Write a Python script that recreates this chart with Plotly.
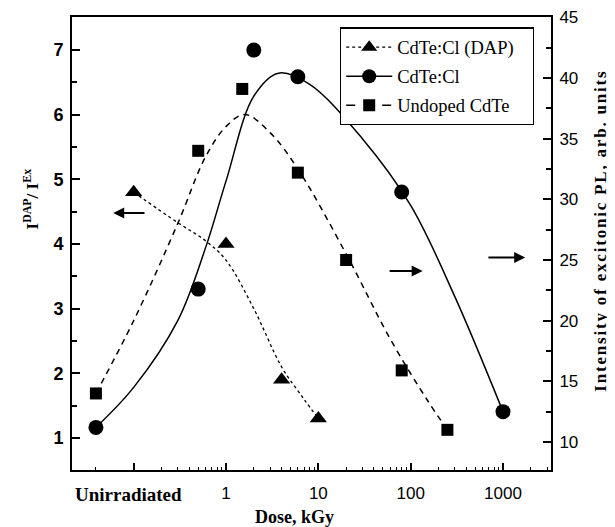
import math
import plotly.graph_objects as go

# ---------------- data ----------------
UNIRR = 0.039  # position used for the "Unirradiated" samples on the log dose axis

dap_dose = [0.1, 1, 4, 10]
dap_ratio = [4.8, 4.0, 1.9, 1.3]

cl_dose = [UNIRR, 0.5, 2, 6, 80, 1000]
cl_pl = [11.2, 22.6, 42.3, 40.1, 30.6, 12.5]

und_dose = [UNIRR, 0.5, 1.5, 6, 20, 80, 250]
und_pl = [14.0, 34.0, 39.1, 32.2, 25.0, 15.9, 11.0]

# smooth guide curves
dap_fit_dose = [0.1, 0.3, 0.6, 1, 2, 4, 7, 10]
dap_fit_val = [4.8, 4.33, 4.05, 3.75, 3.0, 2.1, 1.6, 1.3]

cl_fit_dose = [UNIRR, 0.1, 0.3, 0.6, 1, 2, 3.7, 8, 30, 100, 300, 1000]
cl_fit_val = [11.2, 14.5, 20.0, 26.0, 31.5, 38.5, 40.4, 39.5, 35.0, 29.5, 22.0, 12.5]

und_fit_dose = [UNIRR, 0.1, 0.3, 0.6, 1, 1.6, 3, 6, 20, 60, 150, 250]
und_fit_val = [14.0, 20.0, 28.0, 33.5, 36.0, 37.0, 35.5, 32.5, 25.5, 18.5, 13.5, 11.0]

x_major = [0.1, 1, 10, 100, 1000]
x_major_text = ["", "1", "10", "100", "1000"]
x_minor = [UNIRR] + [m * 10 ** e for e in range(-1, 4) for m in range(2, 10) if m * 10 ** e <= 3000]

SERIF = "Liberation Serif"
SANS = "Liberation Sans"

fig = go.Figure()

# guide curves
fig.add_trace(go.Scatter(x=dap_fit_dose, y=dap_fit_val, mode="lines", yaxis="y",
                         line=dict(color="black", width=1.3, dash="dot", shape="spline"),
                         showlegend=False, hoverinfo="skip"))
fig.add_trace(go.Scatter(x=cl_fit_dose, y=cl_fit_val, mode="lines", yaxis="y2",
                         line=dict(color="black", width=1.5, shape="spline"),
                         showlegend=False, hoverinfo="skip"))
fig.add_trace(go.Scatter(x=und_fit_dose, y=und_fit_val, mode="lines", yaxis="y2",
                         line=dict(color="black", width=1.5, dash="6px,5px", shape="spline"),
                         showlegend=False, hoverinfo="skip"))

# markers
fig.add_trace(go.Scatter(x=dap_dose, y=dap_ratio, mode="markers", yaxis="y",
                         marker=dict(symbol="triangle-up", size=15, color="black"),
                         showlegend=False))
fig.add_trace(go.Scatter(x=cl_dose, y=cl_pl, mode="markers", yaxis="y2",
                         marker=dict(symbol="circle", size=15, color="black"),
                         showlegend=False))
fig.add_trace(go.Scatter(x=und_dose, y=und_pl, mode="markers", yaxis="y2",
                         marker=dict(symbol="square", size=12, color="black"),
                         showlegend=False))

# legend entries
NB = "\u00a0" * 3
fig.add_trace(go.Scatter(x=[None], y=[None], mode="lines+markers", name="CdTe:Cl (DAP)" + NB,
                         legendgroup="a",
                         line=dict(color="black", width=1.3, dash="dot"),
                         marker=dict(symbol="triangle-up", size=14, color="black")))
fig.add_trace(go.Scatter(x=[None], y=[None], mode="lines+markers", name="CdTe:Cl",
                         legendgroup="b",
                         line=dict(color="black", width=1.5),
                         marker=dict(symbol="circle", size=14, color="black")))
fig.add_trace(go.Scatter(x=[None], y=[None], mode="lines+markers", name="Undoped CdTe",
                         legendgroup="c",
                         line=dict(color="black", width=1.5, dash="dash"),
                         marker=dict(symbol="square", size=12, color="black")))

xr = [-1.668, 3.520]

def lx(v):
    return math.log10(v)

ARW = dict(text="", showarrow=True, arrowhead=2, arrowsize=1.1, arrowwidth=2, arrowcolor="black")
TXT = dict(xref="paper", yref="paper", showarrow=False, xanchor="center", yanchor="middle")
annotations = [
    dict(x=lx(0.06), y=4.48, ax=lx(0.136), ay=4.48, xref="x", yref="y", axref="x", ayref="y", **ARW),
    dict(x=lx(135), y=24.1, ax=lx(57), ay=24.1, xref="x", yref="y2", axref="x", ayref="y2", **ARW),
    dict(x=lx(1740), y=25.2, ax=lx(670), ay=25.2, xref="x", yref="y2", axref="x", ayref="y2", **ARW),
    dict(x=0.117, y=-0.053, text="<b>Unirradiated</b>",
         font=dict(family=SERIF, size=19, color="black"), **TXT),
    dict(x=0.465, y=-0.103, text="<b>Dose, kGy</b>",
         font=dict(family=SERIF, size=18, color="black"), **TXT),
    dict(x=-0.086, y=0.599, textangle=-90,
         text="<b>I<sup>DAP</sup>/ I<sup>Ex</sup></b>",
         font=dict(family=SERIF, size=17, color="black"), **TXT),
    dict(x=1.104, y=0.528, textangle=-90,
         text='<b><span style="letter-spacing:1.8px">Intensity of excitonic PL, arb. units</span></b>',
         font=dict(family=SERIF, size=17, color="black"), **TXT),
]

shapes = []
for xa, xb in [(110, 122), (117, 128)]:
    shapes.append(dict(type="line", xref="x", yref="paper",
                       x0=(xa - 226) / 92.33, x1=(xb - 226) / 92.33, y0=-0.018, y1=0.018,
                       line=dict(color="black", width=1.5)))

# the page body adds an 8px offset, so the figure is 8px smaller than the window
fig.update_layout(
    width=607, height=519,
    margin=dict(l=64, r=64, t=9, b=57, autoexpand=False),
    paper_bgcolor="white", plot_bgcolor="white",
    showlegend=True,
    legend=dict(x=0.5595, y=0.977, xanchor="left", yanchor="top",
                bordercolor="black", borderwidth=1.2, bgcolor="white",
                font=dict(family=SERIF, size=18.5, color="black"),
                itemwidth=46, tracegroupgap=2),
    xaxis=dict(type="log", range=xr, showgrid=False, zeroline=False, automargin=False,
               showline=True, linecolor="black", linewidth=2, mirror=True,
               ticks="inside", ticklen=7, tickwidth=1.5, tickcolor="black",
               tickmode="array", tickvals=x_major, ticktext=x_major_text,
               ticklabelstandoff=7,
               tickfont=dict(family=SANS, size=17, color="black"),
               minor=dict(tickmode="array", tickvals=x_minor, ticks="inside",
                          ticklen=3, tickwidth=1.2, tickcolor="black", showgrid=False)),
    yaxis=dict(range=[0.505, 7.51], showgrid=False, zeroline=False, automargin=False,
               showline=True, linecolor="black", linewidth=2,
               ticks="inside", ticklen=8, tickwidth=2, tickcolor="black",
               tickmode="array", tickvals=[1, 2, 3, 4, 5, 6, 7],
               ticklabelstandoff=3,
               tickfont=dict(family=SANS, size=18, color="black", weight="bold"),
               minor=dict(tickmode="array", tickvals=[1.5, 2.5, 3.5, 4.5, 5.5, 6.5],
                          ticks="inside", ticklen=5, tickwidth=2, tickcolor="black")),
    yaxis2=dict(range=[7.69, 45.03], overlaying="y", side="right", showgrid=False,
                zeroline=False, showline=True, linecolor="black", linewidth=2, automargin=False,
                ticks="inside", ticklen=8, tickwidth=2, tickcolor="black",
                tickmode="array", tickvals=[10, 15, 20, 25, 30, 35, 40, 45],
                ticklabelstandoff=3,
                tickfont=dict(family=SANS, size=17, color="black"),
                minor=dict(tickmode="array", tickvals=[12.5, 17.5, 22.5, 27.5, 32.5, 37.5, 42.5],
                           ticks="inside", ticklen=5, tickwidth=2, tickcolor="black")),
    annotations=annotations,
    shapes=shapes,
)

fig.write_html("out.html")
